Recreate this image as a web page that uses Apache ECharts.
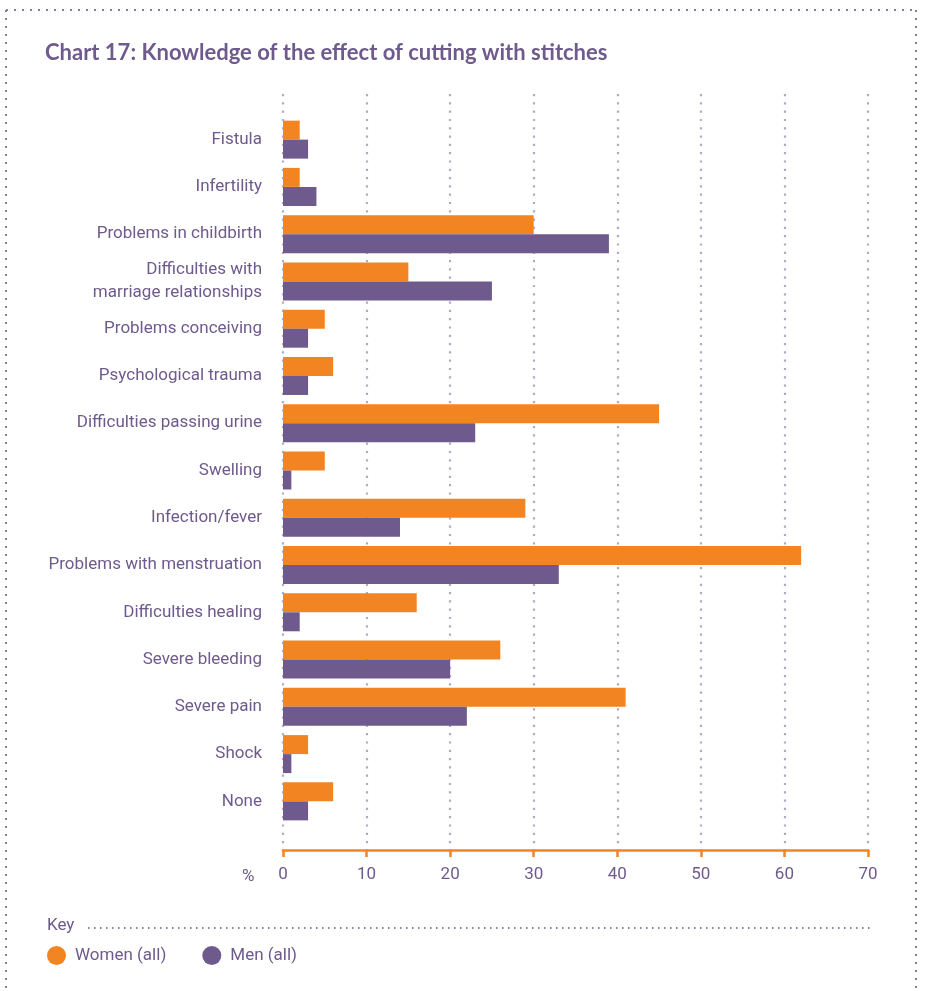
<!DOCTYPE html>
<html>
<head>
<meta charset="utf-8">
<script src="https://cdn.jsdelivr.net/npm/echarts@6/dist/echarts.min.js"></script>
<style>
html,body{margin:0;padding:0;background:#fff;}
#chart{width:925px;height:991px;}
</style>
</head>
<body>
<div id="chart"></div>
<script>
const categories = ["Fistula","Infertility","Problems in childbirth","Difficulties with\nmarriage relationships","Problems conceiving","Psychological trauma","Difficulties passing urine","Swelling","Infection/fever","Problems with menstruation","Difficulties healing","Severe bleeding","Severe pain","Shock","None"];
const women = [2,2,30,15,5,6,45,5,29,62,16,26,41,3,6];
const men = [3,4,39,25,3,3,23,1,14,33,2,20,22,1,3];
const xTicks = {min:0, max:70, interval:10};
const seriesNames = ["Women (all)","Men (all)"];

const ORANGE = '#F28522';
const PURPLE = '#6F5A8E';
const TEXT = '#6E5A8C';
const NARROW = "Roboto, sans-serif";

const chart = echarts.init(document.getElementById('chart'), null, {renderer:'canvas'});
chart.setOption({
  animation:false,
  backgroundColor:'#fff',
  title:{
    text:'Chart 17: Knowledge of the effect of cutting with stitches',
    left:40, top:37,
    textStyle:{fontFamily:'Lato, sans-serif', fontWeight:'bold', fontSize:22, color:TEXT}
  },
  legend:{
    data:seriesNames,
    left:47, top:946, padding:0,
    icon:'circle', itemWidth:19, itemHeight:19, itemGap:36,
    textStyle:{fontFamily:NARROW, fontSize:17, color:TEXT, padding:[0,0,0,4]}
  },
  grid:[
    {left:283, width:585, top:116, height:709, containLabel:false},
    {left:283, width:585, top:94, height:756, containLabel:false}
  ],
  xAxis:[
    {
      type:'value', gridIndex:0, min:xTicks.min, max:xTicks.max, interval:xTicks.interval,
      offset:25,
      axisLine:{show:true, lineStyle:{color:ORANGE, width:2.5}},
      axisTick:{show:true, length:7, lineStyle:{color:ORANGE, width:2.5}},
      axisLabel:{fontFamily:NARROW, fontSize:17, color:TEXT, margin:16},
      splitLine:{show:false}
    },
    {
      type:'value', gridIndex:1, min:xTicks.min, max:xTicks.max, interval:xTicks.interval,
      axisLine:{show:false}, axisTick:{show:false}, axisLabel:{show:false},
      splitLine:{show:true, lineStyle:{color:'#B2A8CA', width:2.2, type:[2.2,6.1]}}
    }
  ],
  yAxis:[
    {
      type:'category', gridIndex:0, data:categories, inverse:true,
      axisLine:{show:false}, axisTick:{show:false},
      axisLabel:{fontFamily:NARROW, fontSize:17, color:TEXT, margin:21, lineHeight:23, align:'right'}
    },
    {type:'value', gridIndex:1, min:0, max:1, show:false}
  ],
  series:[
    {name:seriesNames[0], type:'bar', xAxisIndex:0, yAxisIndex:0, data:women, barWidth:19, barGap:'0%', itemStyle:{color:ORANGE}},
    {name:seriesNames[1], type:'bar', xAxisIndex:0, yAxisIndex:0, data:men, barWidth:19, barGap:'0%', itemStyle:{color:PURPLE}}
  ],
  graphic:[
    {type:'text', left:47, top:917, style:{text:'Key', fontFamily:NARROW, fontSize:17, fill:TEXT}},
    {type:'line', shape:{x1:88, y1:928, x2:870, y2:928}, style:{stroke:'#8A78A8', lineWidth:2, lineDash:[1.5,4.5]}},
    {type:'line', shape:{x1:6, y1:10, x2:916, y2:10}, style:{stroke:'#8A78A8', lineWidth:2, lineDash:[2,6]}},
    {type:'line', shape:{x1:6, y1:10, x2:6, y2:991}, style:{stroke:'#8A78A8', lineWidth:2, lineDash:[2,6]}},
    {type:'line', shape:{x1:916, y1:10, x2:916, y2:991}, style:{stroke:'#8A78A8', lineWidth:2, lineDash:[2,6]}},
    {type:'text', left:242, top:868, style:{text:'%', fontFamily:NARROW, fontSize:17, fill:TEXT}}
  ]
});
</script>
</body>
</html>
